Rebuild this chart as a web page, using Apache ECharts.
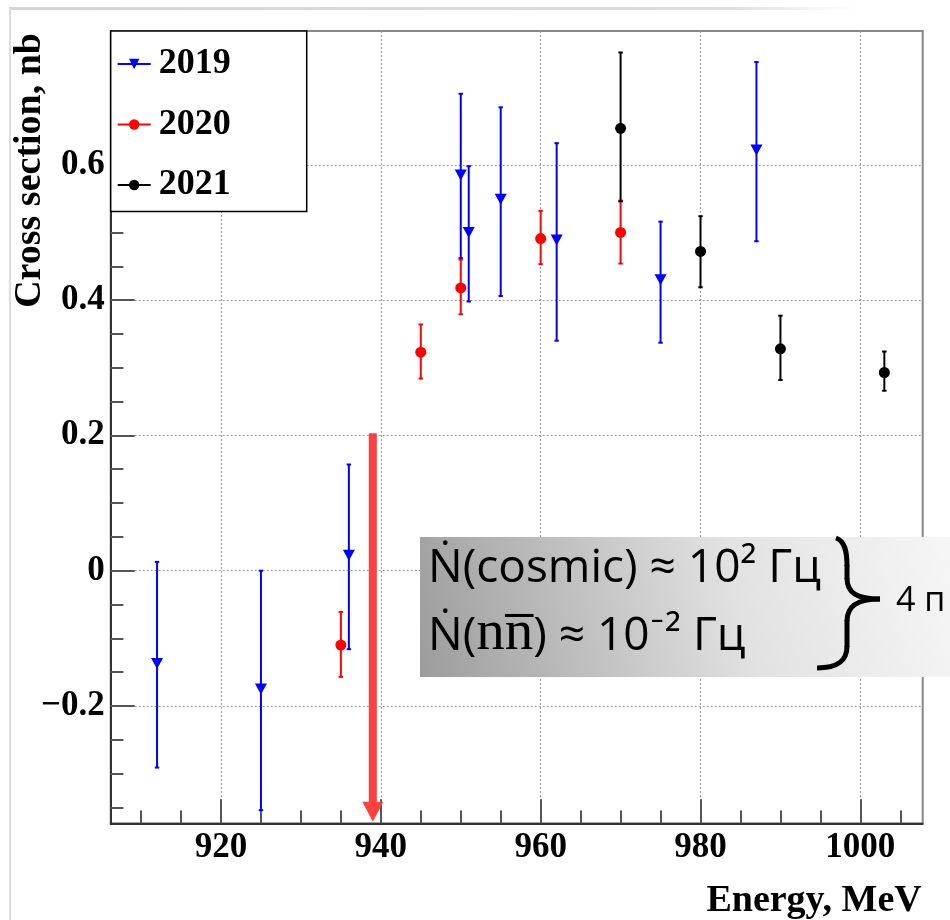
<!DOCTYPE html>
<html><head><meta charset="utf-8">
<script src="https://cdn.jsdelivr.net/npm/echarts@6/dist/echarts.min.js"></script>
<style>html,body{margin:0;padding:0;background:#fff}#c{width:950px;height:920px}</style>
</head><body><div id="c"></div>
<script>
// ---- data ----
const energy2019 = [912, 925, 936, 950, 951, 955, 962, 975, 987];
const sigma2019  = [-0.137, -0.175, 0.023, 0.585, 0.500, 0.549, 0.489, 0.430, 0.622];
const low2019    = [-0.291, -0.354, -0.116, 0.462, 0.398, 0.406, 0.340, 0.337, 0.487];
const high2019   = [0.013, 0.000, 0.157, 0.705, 0.598, 0.685, 0.632, 0.516, 0.752];

const energy2020 = [935, 945, 950, 960, 970];
const sigma2020  = [-0.110, 0.323, 0.418, 0.491, 0.500];
const low2020    = [-0.157, 0.284, 0.379, 0.453, 0.454];
const high2020   = [-0.061, 0.364, 0.460, 0.532, 0.547];

const energy2021 = [970, 980, 990, 1003];
const sigma2021  = [0.654, 0.472, 0.328, 0.293];
const low2021    = [0.546, 0.419, 0.282, 0.266];
const high2021   = [0.766, 0.524, 0.377, 0.324];

const arrowData = [[939, 0.203, -0.371]]; // energy, top, tip

const xMajorTicks = [920, 940, 960, 980, 1000];
const xMinorTicks = [910, 915, 920, 925, 930, 935, 940, 945, 950, 955, 960, 965, 970, 975, 980, 985, 990, 995, 1000, 1005];
const yMajorTicks = [-0.2, 0, 0.2, 0.4, 0.6];
const yMinorTicks = [-0.35, -0.3, -0.25, -0.2, -0.15, -0.1, -0.05, 0, 0.05, 0.1, 0.15, 0.2, 0.25, 0.3, 0.35, 0.4, 0.45, 0.5, 0.55, 0.6, 0.65, 0.7, 0.75];

const X_MIN = 906.2, X_MAX = 1007.8, Y_MIN = -0.3734, Y_MAX = 0.7978;

// ---- helpers ----
const BLUE = '#0000ff', RED = '#ff0000', BLACK = '#000000';
const serif = 'Liberation Serif';

function pairs(xs, ys) { return xs.map((x, i) => [x, ys[i]]); }
function triples(xs, lo, hi) { return xs.map((x, i) => [x, lo[i], hi[i]]); }

function errRender(color) {
  return function (params, api) {
    const x = api.value(0), lo = api.value(1), hi = api.value(2);
    const a = api.coord([x, lo]), b = api.coord([x, hi]);
    const c = 2.2;
    const st = { stroke: color, lineWidth: 2 };
    return { type: 'group', children: [
      { type: 'line', shape: { x1: a[0], y1: a[1], x2: b[0], y2: b[1] }, style: st },
      { type: 'line', shape: { x1: a[0] - c, y1: a[1], x2: a[0] + c, y2: a[1] }, style: st },
      { type: 'line', shape: { x1: b[0] - c, y1: b[1], x2: b[0] + c, y2: b[1] }, style: st }
    ]};
  };
}

function arrowRender(params, api) {
  const x = api.value(0), top = api.value(1), tip = api.value(2);
  const t = api.coord([x, top]), p = api.coord([x, tip]);
  const headLen = 20, headW = 10.5, shaftW = 4;
  const col = '#ff4040';
  return { type: 'group', children: [
    { type: 'rect', shape: { x: t[0] - shaftW, y: t[1], width: shaftW * 2, height: (p[1] - headLen) - t[1] + 1 }, style: { fill: col } },
    { type: 'polygon', shape: { points: [[p[0] - headW, p[1] - headLen], [p[0] + headW, p[1] - headLen], [p[0], p[1]]] }, style: { fill: col } }
  ]};
}

function pointSeries(name, xs, ys, color, symbol, rot, size) {
  return {
    name: name, type: 'line', data: pairs(xs, ys),
    symbol: symbol, symbolSize: size, symbolRotate: rot, showSymbol: true,
    itemStyle: { color: color }, lineStyle: { color: color, opacity: 0, width: 2 },
    z: 5, animation: false
  };
}
function errSeries(xs, lo, hi, color) {
  return {
    type: 'custom', data: triples(xs, lo, hi), renderItem: errRender(color),
    encode: { x: 0, y: [1, 2] }, z: 4, silent: true, animation: false
  };
}

const tickLine = { color: '#555', width: 2 };
const sansFont = '"Open Sans", Lato, sans-serif';
const braceStyle = { stroke: '#000', lineWidth: 5, fill: null };
function fmtNum(v) { const r = Math.round(v * 1000) / 1000; return r < 0 ? '\u2212' + String(-r) : String(r); }
const axisLabelBase = { fontFamily: serif, fontWeight: 'bold', fontSize: 35, color: '#000' };

const option = {
  backgroundColor: '#fff',
  animation: false,
  textStyle: { fontFamily: serif, fontWeight: 'bold', fontSize: 35, color: '#000' },
  grid: { left: 110.7, right: 27.3, top: 31, bottom: 96.7, show: true, borderColor: '#888', borderWidth: 2, outerBoundsMode: 'none', containLabel: false },
  legend: {
    orient: 'vertical', left: 110.7, top: 31,
    data: ['2019', '2020', '2021'],
    itemWidth: 33, itemHeight: 13, itemGap: 20.5,
    padding: [13, 76, 6.5, 6],
    backgroundColor: '#fff', borderColor: '#000', borderWidth: 1.5, borderRadius: 0,
    lineStyle: { width: 2, opacity: 1 },
    textStyle: { fontFamily: serif, fontWeight: 'bold', fontSize: 36, color: '#000', lineHeight: 40, padding: [0, 0, 0, 3] },
    selectedMode: false
  },
  xAxis: [
    {
      type: 'value', min: X_MIN, max: X_MAX, position: 'bottom',
      name: 'Energy, MeV', nameLocation: 'end', nameGap: -1, nameMoveOverlap: false,
      nameTextStyle: { fontFamily: serif, fontWeight: 'bold', fontSize: 38, color: '#000', align: 'right', verticalAlign: 'top', padding: [59, 0, 0, 0] },
      axisLine: { show: true, onZero: false, lineStyle: { color: '#333', width: 2 } },
      axisTick: { show: true, inside: true, length: 24, customValues: xMajorTicks, lineStyle: tickLine },
      axisLabel: Object.assign({ customValues: xMajorTicks, margin: 7, formatter: v => fmtNum(v) }, axisLabelBase),
      splitLine: { show: true, lineStyle: { type: [2, 2], color: '#9a9a9a', width: 1 } }
    },
    {
      type: 'value', min: X_MIN, max: X_MAX, position: 'bottom',
      axisLine: { show: false, onZero: false },
      axisTick: { show: true, inside: true, length: 12.7, customValues: xMinorTicks, lineStyle: tickLine },
      axisLabel: { show: false }, splitLine: { show: false }
    }
  ],
  yAxis: [
    {
      type: 'value', min: Y_MIN, max: Y_MAX, position: 'left',
      name: 'Cross section, nb', nameLocation: 'end', nameGap: -2, nameRotate: 90, nameMoveOverlap: false,
      nameTextStyle: { fontFamily: serif, fontWeight: 'bold', fontSize: 38, color: '#000', align: 'right', verticalAlign: 'bottom', padding: [0, 0, 62, 0] },
      axisLine: { show: true, onZero: false, lineStyle: { color: '#333', width: 2 } },
      axisTick: { show: true, inside: true, length: 24, customValues: yMajorTicks, lineStyle: tickLine },
      axisLabel: Object.assign({ customValues: yMajorTicks, margin: 6, formatter: v => fmtNum(v) }, axisLabelBase),
      splitLine: { show: true, lineStyle: { type: [2, 2], color: '#9a9a9a', width: 1 } }
    },
    {
      type: 'value', min: Y_MIN, max: Y_MAX, position: 'left',
      axisLine: { show: false, onZero: false },
      axisTick: { show: true, inside: true, length: 12.7, customValues: yMinorTicks, lineStyle: tickLine },
      axisLabel: { show: false }, splitLine: { show: false }
    }
  ],
  series: [
    { type: 'custom', data: arrowData, renderItem: arrowRender, encode: { x: 0, y: [1, 2] }, z: 3, silent: true },
    errSeries(energy2019, low2019, high2019, BLUE),
    errSeries(energy2020, low2020, high2020, RED),
    errSeries(energy2021, low2021, high2021, BLACK),
    pointSeries('2019', energy2019, sigma2019, BLUE, 'triangle', 180, [12, 11]),
    pointSeries('2020', energy2020, sigma2020, RED, 'circle', 0, 11),
    pointSeries('2021', energy2021, sigma2021, BLACK, 'circle', 0, 11)
  ],
  graphic: [
    { type: 'line', shape: { x1: 9, y1: 8.5, x2: 860, y2: 8.5 }, style: { stroke: new echarts.graphic.LinearGradient(0, 0, 1, 0, [{ offset: 0, color: '#d4d4d4' }, { offset: 0.85, color: '#dedede' }, { offset: 1, color: 'rgba(230,230,230,0)' }]), lineWidth: 3 }, z: 1, silent: true },
    { type: 'line', shape: { x1: 10, y1: 8, x2: 10, y2: 920 }, style: { stroke: '#dcdcdc', lineWidth: 2 }, z: 1, silent: true },
    { type: 'rect', shape: { x: 420, y: 537, width: 530, height: 140 },
      style: { fill: new echarts.graphic.LinearGradient(0, 1, 1, 0, [{ offset: 0, color: '#9c9c9c' }, { offset: 0.6, color: '#e2e2e2' }, { offset: 1, color: '#f6f6f6' }]) }, z: 100, silent: true },
    { type: 'text', z: 101, silent: true, style: { text: 'Ṅ(cosmic) ≈ 10² Гц', x: 428, y: 569, font: 'normal 46px ' + sansFont, fill: '#000', verticalAlign: 'middle' } },
    { type: 'text', z: 101, silent: true, style: {
        text: '{a|Ṅ(}{b|nn\u0305}{a|) ≈ 10⁻² Гц}', x: 428, y: 632, fill: '#000', verticalAlign: 'middle',
        rich: { a: { fontFamily: sansFont, fontWeight: 'normal', fontSize: 46, verticalAlign: 'bottom', lineHeight: 62, padding: [0, 0, 3, 0] },
                b: { fontFamily: '"Liberation Serif", serif', fontWeight: 'normal', fontSize: 57, verticalAlign: 'bottom', lineHeight: 62 } } } },
    { type: 'bezierCurve', z: 101, silent: true, shape: { x1: 836, y1: 538, cpx1: 845, cpy1: 541, cpx2: 847, cpy2: 552, x2: 847, y2: 566 }, style: braceStyle },
    { type: 'line', z: 101, silent: true, shape: { x1: 847, y1: 565, x2: 847, y2: 579 }, style: braceStyle },
    { type: 'bezierCurve', z: 101, silent: true, shape: { x1: 847, y1: 578, cpx1: 847, cpy1: 593, cpx2: 857, cpy2: 599, x2: 880, y2: 599 }, style: braceStyle },
    { type: 'bezierCurve', z: 101, silent: true, shape: { x1: 880, y1: 599, cpx1: 857, cpy1: 599, cpx2: 847, cpy2: 606, x2: 847, y2: 621 }, style: braceStyle },
    { type: 'line', z: 101, silent: true, shape: { x1: 847, y1: 620, x2: 847, y2: 647 }, style: braceStyle },
    { type: 'bezierCurve', z: 101, silent: true, shape: { x1: 847, y1: 646, cpx1: 847, cpy1: 661, cpx2: 838, cpy2: 668, x2: 817, y2: 668 }, style: braceStyle },
    { type: 'text', z: 101, silent: true, style: { text: '4 п', x: 896, y: 601, font: 'normal 34px ' + sansFont, fill: '#000', verticalAlign: 'middle' } }
  ]
};

const chart = echarts.init(document.getElementById('c'), null, { renderer: 'canvas' });
chart.setOption(option);
</script>
</body></html>
